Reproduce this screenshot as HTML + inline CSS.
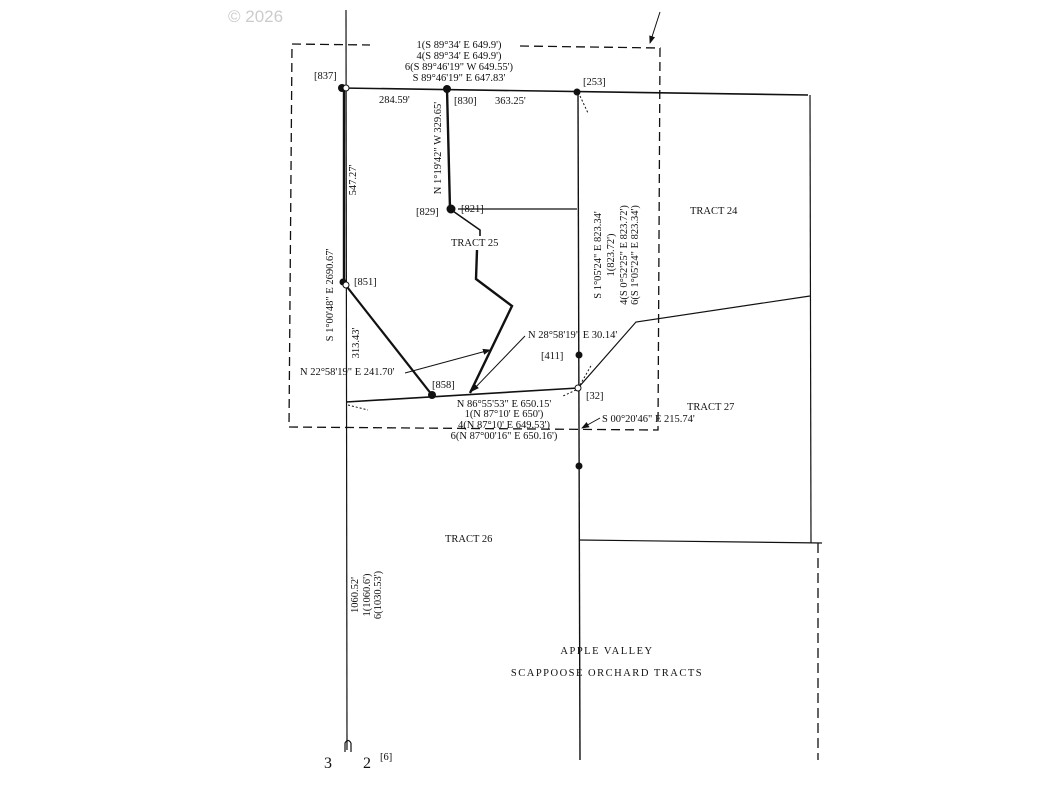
<!DOCTYPE html>
<html><head><meta charset="utf-8"><style>
html,body{margin:0;padding:0;background:#fff}
svg{display:block}
text{font-family:"Liberation Serif",serif;font-size:10.5px;fill:#111}
</style></head><body>
<svg width="1056" height="792" viewBox="0 0 1056 792" xmlns="http://www.w3.org/2000/svg">
<defs><marker id="ah" markerWidth="8" markerHeight="8" refX="7" refY="4" orient="auto"><path d="M0,1 L8,4 L0,7 z" fill="#111"/></marker></defs>
<text x="228" y="22" style="font-family:'Liberation Sans',sans-serif;font-size:17px;fill:#ccc">© 2026</text>
<g fill="none" stroke="#111">
<path d="M292,44 L370,45 M520,46 L660,48 L658,430 L289,427 L292,44" stroke-dasharray="9,5" stroke-width="1.3"/>
<line x1="660" y1="12" x2="650" y2="43" marker-end="url(#ah)"/>
<line x1="346" y1="10" x2="347" y2="750" stroke-width="1.2"/>
<line x1="344" y1="88" x2="344" y2="283" stroke-width="2.4"/>
<line x1="341" y1="88" x2="808" y2="95" stroke-width="1.6"/>
<line x1="447" y1="89" x2="450" y2="209" stroke-width="2.4"/>
<line x1="458" y1="209" x2="577" y2="209" stroke-width="1.2"/>
<polyline points="450,209 480,230 480,236" stroke-width="1.6"/>
<polyline points="477,250 476,279 512,306 470,393" stroke-width="2.4"/>
<line x1="344" y1="283" x2="432" y2="395" stroke-width="2.2"/>
<line x1="346" y1="402" x2="578" y2="388" stroke-width="1.6"/>
<line x1="578" y1="92" x2="580" y2="760" stroke-width="1.4"/>
<polyline points="578,388 636,322 810,296" stroke-width="1.2"/>
<line x1="810" y1="95" x2="811" y2="543" stroke-width="1.2"/>
<line x1="818" y1="543" x2="818" y2="760" stroke-dasharray="10,5" stroke-width="1.3"/>
<line x1="579" y1="540" x2="822" y2="543" stroke-width="1.2"/>
<line x1="405" y1="373" x2="490" y2="350" marker-end="url(#ah)"/>
<line x1="525" y1="336" x2="472" y2="391" marker-end="url(#ah)"/>
<line x1="600" y1="418" x2="582" y2="428" marker-end="url(#ah)"/>
<path d="M580,96 L588,113 M348,405 L368,410 M580,385 L592,364 M576,390 L563,396" stroke-dasharray="2,2"/>
<path d="M351,743 L351,752 M345,752 L345,743 Q348,738 351,743" stroke-width="1.2"/>
</g>
<g fill="#111">
<circle cx="342" cy="88" r="4"/><circle cx="346" cy="88" r="3" fill="#fff" stroke="#111"/>
<circle cx="447" cy="89" r="4"/><circle cx="577" cy="92" r="3.5"/>
<circle cx="451" cy="209" r="4.5"/><circle cx="343" cy="282" r="3.5"/><circle cx="346" cy="285" r="3" fill="#fff" stroke="#111"/>
<circle cx="432" cy="395" r="4"/><circle cx="579" cy="355" r="3.5"/><circle cx="578" cy="388" r="3" fill="#fff" stroke="#111"/><circle cx="579" cy="466" r="3.5"/>
</g>
<g text-anchor="middle">
<text x="459" y="48">1(S 89°34' E 649.9')</text>
<text x="459" y="59">4(S 89°34' E 649.9')</text>
<text x="459" y="70">6(S 89°46'19" W 649.55')</text>
<text x="459" y="81">S 89°46'19" E 647.83'</text>
</g>
<text x="314" y="79">[837]</text>
<text x="379" y="103">284.59'</text>
<text x="454" y="104">[830]</text>
<text x="495" y="104">363.25'</text>
<text x="583" y="85">[253]</text>
<text x="416" y="215">[829]</text>
<text x="461" y="212">[821]</text>
<text x="451" y="246">TRACT 25</text>
<text x="690" y="214">TRACT 24</text>
<text x="354" y="285">[851]</text>
<text x="541" y="359">[411]</text>
<text x="586" y="399">[32]</text>
<text x="432" y="388">[858]</text>
<text x="300" y="375">N 22°58'19" E 241.70'</text>
<text x="528" y="338">N 28°58'19" E 30.14'</text>
<text x="602" y="422">S 00°20'46" E 215.74'</text>
<text x="687" y="410">TRACT 27</text>
<g text-anchor="middle">
<text x="504" y="407">N 86°55'53" E 650.15'</text>
<text x="504" y="417">1(N 87°10' E 650')</text>
<text x="504" y="428">4(N 87°10' E 649.53')</text>
<text x="504" y="439">6(N 87°00'16" E 650.16')</text>
</g>
<text x="445" y="542">TRACT 26</text>
<text transform="translate(441,148) rotate(-90)" text-anchor="middle">N 1°19'42" W 329.65'</text>
<text transform="translate(356,180) rotate(-90)" text-anchor="middle">547.27'</text>
<text transform="translate(333,295) rotate(-90)" text-anchor="middle">S 1°00'48" E 2690.67'</text>
<text transform="translate(359,343) rotate(-90)" text-anchor="middle">313.43'</text>
<text transform="translate(601,255) rotate(-90)" text-anchor="middle">S 1°05'24" E 823.34'</text>
<text transform="translate(614,255) rotate(-90)" text-anchor="middle">1(823.72')</text>
<text transform="translate(627,255) rotate(-90)" text-anchor="middle">4(S 0°52'25" E 823.72')</text>
<text transform="translate(638,255) rotate(-90)" text-anchor="middle">6(S 1°05'24" E 823.34')</text>
<text transform="translate(358,595) rotate(-90)" text-anchor="middle">1060.52'</text>
<text transform="translate(370,595) rotate(-90)" text-anchor="middle">1(1060.6')</text>
<text transform="translate(381,595) rotate(-90)" text-anchor="middle">6(1030.53')</text>
<text x="380" y="760">[6]</text>
<text x="324" y="768" style="font-size:16px">3</text><text x="363" y="768" style="font-size:16px">2</text>
<g style="font-family:'Liberation Sans',sans-serif;font-size:14px;letter-spacing:1.5px" text-anchor="middle">
<text x="607" y="654">APPLE VALLEY</text>
<text x="607" y="676">SCAPPOOSE ORCHARD TRACTS</text>
</g>
</svg>
</body></html>
